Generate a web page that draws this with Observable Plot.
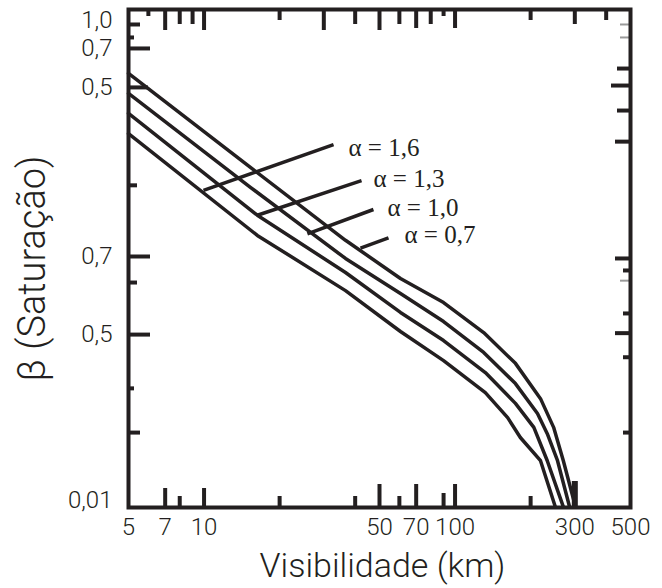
<!DOCTYPE html>
<html>
<head>
<meta charset="utf-8">
<script src="https://cdn.jsdelivr.net/npm/d3@7"></script>
<script src="https://cdn.jsdelivr.net/npm/@observablehq/plot@0.6"></script>
<style>
  body { margin: 0; background: #ffffff; }
  #chart svg { display: block; }
</style>
</head>
<body>
<div id="chart"></div>
<script>
// ---- data ----
const alphas = ["0,7", "1,0", "1,3", "1,6"];
const visA07 = [5, 15.3, 36.6, 60.6, 90, 130, 174, 219, 247, 270, 302];
const betaA07 = [0.623, 0.251, 0.124, 0.0857, 0.0679, 0.0508, 0.0377, 0.0268, 0.0203, 0.0147, 0.0094];
const visA10 = [5, 15.3, 36.6, 60.6, 90, 130, 174, 213, 233, 256, 286];
const betaA10 = [0.513, 0.207, 0.104, 0.0741, 0.0565, 0.0419, 0.0310, 0.0232, 0.0191, 0.0147, 0.0094];
const visA13 = [5, 16.3, 36.6, 60.6, 90, 132, 174, 206, 233, 270];
const betaA13 = [0.423, 0.158, 0.0908, 0.0617, 0.0470, 0.0345, 0.0256, 0.0203, 0.0147, 0.0094];
const visA16 = [5, 16.3, 36.6, 60.6, 90, 132, 162, 182, 219, 251];
const betaA16 = [0.348, 0.130, 0.0762, 0.0513, 0.0387, 0.0284, 0.0223, 0.0184, 0.0147, 0.0094];

// annotation labels and leader lines (data units)
const labelTexts = ["α = 1,6", "α = 1,3", "α = 1,0", "α = 0,7"];
const labelVis = [37.6, 47.3, 53.8, 62.9];
const labelBeta = [0.304, 0.225, 0.170, 0.130];
const leaderVis1 = [9.95, 16.3, 25.8, 42];
const leaderBeta1 = [0.201, 0.158, 0.132, 0.115];
const leaderVis2 = [32.8, 42.4, 47.3, 54.3];
const leaderBeta2 = [0.313, 0.221, 0.167, 0.127];

// axis tick labels
const xTickVals = [5, 7, 10, 50, 70, 100, 300, 500];
const xTickLabels = ["5", "7", "10", "50", "70", "100", "300", "500"];
const yTickVals = [1.04, 0.793, 0.544, 0.106, 0.0498, 0.01];
const yTickLabels = ["1,0", "0,7", "0,5", "0,7", "0,5", "0,01"];
const xTitle = "Visibilidade (km)";
const yTitle = "β (Saturação)";

// inward tick marks, grouped by length
const topTicks20 = [7, 10, 30, 50];
const topTicks18 = [70, 100];
const topTicks14 = [8, 9, 40, 60, 80, 300];
const topTicks10 = [20, 200, 400];
const topTicks6 = [6, 90];
const bottomTicks23 = [50, 70, 100];
const bottomTicks26 = [300];
const bottomTicks19 = [7, 10];
const bottomTicks14 = [90];
const bottomTicks11 = [8, 20, 40, 60, 200];
const leftTicks22 = [0.793, 0.106, 0.0498];
const leftTicks20 = [0.544];
const leftTicks12 = [1.0, 0.0193];
const leftTicks9 = [0.211, 0.0824];
const leftTicks6 = [0.882, 0.0296];
const rightTicks20 = [0.554];
const rightTicks16 = [0.322, 0.104, 0.0505];
const rightTicks14 = [0.653, 0.435];
const rightTicks8 = [0.0926, 0.0611, 0.0400, 0.0193];
const rightGrayTicks = [1.0, 0.882, 0.0839];

// ---- build table ----
const series = [
  [alphas[0], visA07, betaA07],
  [alphas[1], visA10, betaA10],
  [alphas[2], visA13, betaA13],
  [alphas[3], visA16, betaA16]
];
const rows = series.flatMap(([a, xs, ys]) => xs.map((v, i) => ({alpha: a, vis: v, beta: ys[i]})));
const labels = labelTexts.map((t, i) => ({t, x: labelVis[i], y: labelBeta[i]}));
const leaders = leaderVis1.map((v, i) => ({x1: v, y1: leaderBeta1[i], x2: leaderVis2[i], y2: leaderBeta2[i]}));

const ink = "#231f20";
const sans = "Roboto, 'Liberation Sans', 'DejaVu Sans', sans-serif";

function tx(values, anchor, len, opts = {}) {
  return Plot.axisX({ticks: values, anchor, tickSize: -len, tickFormat: () => "", stroke: ink, strokeWidth: 4, label: null, ...opts});
}
function ty(values, anchor, len, opts = {}) {
  return Plot.axisY({ticks: values, anchor, tickSize: -len, tickFormat: () => "", stroke: ink, strokeWidth: 4, label: null, ...opts});
}

const chart = Plot.plot({
  width: 662,
  height: 588,
  marginLeft: 128,
  marginRight: 32,
  marginTop: 9,
  marginBottom: 81,
  style: {fontFamily: sans, color: ink, background: "#ffffff"},
  x: {type: "log", domain: [5, 500]},
  y: {type: "log", domain: [0.00935, 1.156]},
  marks: [
    Plot.line(rows, {x: "vis", y: "beta", z: "alpha", stroke: ink, strokeWidth: 3.5, strokeLinejoin: "round"}),
    Plot.link(leaders, {x1: "x1", y1: "y1", x2: "x2", y2: "y2", stroke: ink, strokeWidth: 3.5}),
    Plot.text(labels, {x: "x", y: "y", text: "t", textAnchor: "start", fontFamily: "'Liberation Serif', 'Times New Roman', serif", fontSize: 25, fill: ink}),
    tx(topTicks20, "top", 20), tx(topTicks18, "top", 18), tx(topTicks14, "top", 14),
    tx(topTicks10, "top", 10), tx(topTicks6, "top", 6),
    tx(bottomTicks23, "bottom", 23), tx(bottomTicks26, "bottom", 26, {strokeWidth: 6}),
    tx(bottomTicks19, "bottom", 19), tx(bottomTicks14, "bottom", 14), tx(bottomTicks11, "bottom", 11),
    ty(leftTicks22, "left", 22), ty(leftTicks20, "left", 20), ty(leftTicks12, "left", 12),
    ty(leftTicks9, "left", 9), ty(leftTicks6, "left", 6),
    ty(rightTicks20, "right", 20), ty(rightTicks16, "right", 16), ty(rightTicks14, "right", 14),
    ty(rightTicks8, "right", 8),
    ty(rightGrayTicks, "right", 11, {stroke: "#9a9a9a", strokeWidth: 2}),
    Plot.text(xTickVals, {x: d => d, text: (d, i) => xTickLabels[i], frameAnchor: "bottom", lineAnchor: "top", dy: 10,
      fontSize: 24, fontWeight: 300, fill: ink}),
    Plot.text(yTickVals, {y: d => d, text: (d, i) => yTickLabels[i], frameAnchor: "left", textAnchor: "end", dx: -16,
      fontSize: 24, fontWeight: 300, fill: ink}),
    Plot.frame({stroke: ink, strokeWidth: 4}),
    Plot.text([xTitle], {frameAnchor: "bottom", textAnchor: "middle", lineAnchor: "middle", dy: 59, dx: 3,
      fontSize: 34, fontWeight: 300, fill: ink}),
    Plot.text([yTitle], {frameAnchor: "left", textAnchor: "middle", lineAnchor: "middle", rotate: -90, dx: -96, dy: 10,
      fontSize: 38, fontWeight: 300, fill: ink})
  ]
});
document.getElementById("chart").appendChild(chart);
</script>
</body>
</html>
